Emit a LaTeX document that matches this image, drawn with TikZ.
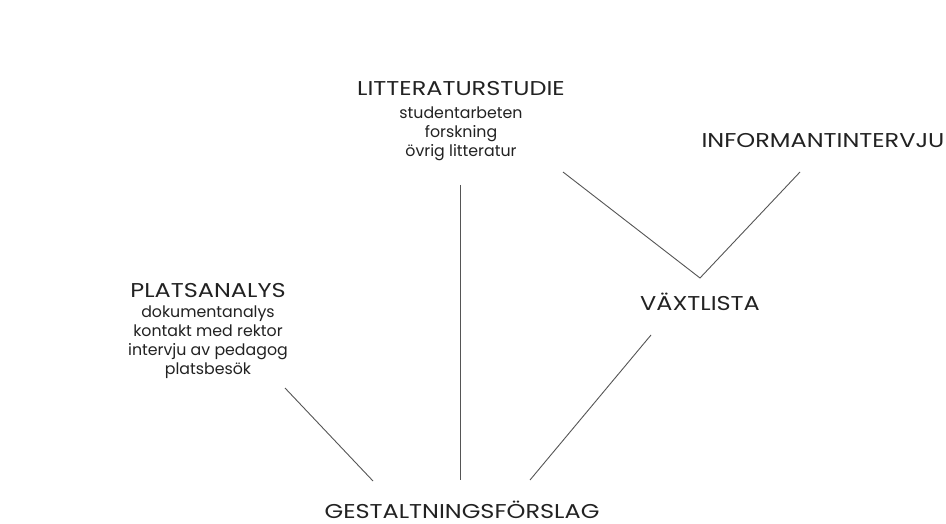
\documentclass[tikz,border=0pt]{standalone}
\usepackage{fontspec}
\setmainfont{Poppins}
\newfontfamily\headfont[FakeStretch=1.2]{Poppins}
\definecolor{inkgray}{HTML}{222222}
\definecolor{linegray}{HTML}{555555}
\tikzset{
  heading/.style={font=\headfont\fontsize{20}{20}\selectfont, text=inkgray, anchor=base, inner sep=0pt, outer sep=0pt},
  subtext/.style={font=\fontsize{15.8}{19}\selectfont, text=inkgray, align=center, anchor=north, inner sep=0pt, outer sep=0pt},
  link/.style={draw=linegray, line width=0.9pt}
}
\begin{document}
\begin{tikzpicture}[x=1pt, y=-1pt]

        % Page frame
        \useasboundingbox[fill=white] (0,0) rectangle (946,524);

        % Headings
        \node[heading] (lit) at (461,96) {LITTERATURSTUDIE};
        \node[heading] (info) at (823,148) {INFORMANTINTERVJU};
        \node[heading] (plats) at (208,297) {PLATSANALYS};
        \node[heading] (vax) at (700,310) {VÄXTLISTA};
        \node[heading] (gest) at (462,518) {GESTALTNINGSFÖRSLAG};

        % Sub items
        \node[subtext] (litsub) at (461,107) {studentarbeten\\forskning\\övrig litteratur};
        \node[subtext] (platssub) at (208,306) {dokumentanalys\\kontakt med rektor\\intervju av pedagog\\platsbesök};

        % Line ends
        \coordinate (litA) at (563,172);
        \coordinate (litB) at (460,185);
        \coordinate (vaxTop) at (700,278);
        \coordinate (infoA) at (800,172);
        \coordinate (platsA) at (285,388);
        \coordinate (vaxA) at (651,335);
        \coordinate (gestA) at (373,481);
        \coordinate (gestB) at (460,480);
        \coordinate (gestC) at (530,480);

        % Connectors
        \draw[link] (litA) -- (vaxTop) -- (infoA);
        \draw[link] (litB) -- (gestB);
        \draw[link] (platsA) -- (gestA);
        \draw[link] (vaxA) -- (gestC);

      \end{tikzpicture}
\end{document}
